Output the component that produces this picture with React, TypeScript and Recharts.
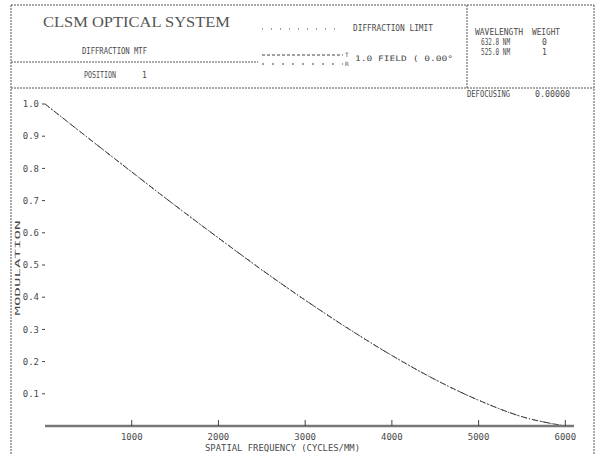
import React from 'react';
import { LineChart, Line, XAxis, YAxis } from 'recharts';

const frequencies = [0, 500, 1000, 1500, 2000, 2500, 3000, 3500, 4000, 4500, 5000, 5500, 6000];
const diffractionLimit = [1.0, 0.894, 0.789, 0.685, 0.584, 0.485, 0.391, 0.302, 0.219, 0.144, 0.08, 0.029, 0.0];
const tangential = [1.0, 0.894, 0.789, 0.685, 0.584, 0.485, 0.391, 0.302, 0.219, 0.144, 0.08, 0.029, 0.0];
const radial = [1.0, 0.894, 0.789, 0.685, 0.584, 0.485, 0.391, 0.302, 0.219, 0.144, 0.08, 0.029, 0.0];
const xTicks = [1000, 2000, 3000, 4000, 5000, 6000];
const yTicks = [0.1, 0.2, 0.3, 0.4, 0.5, 0.6, 0.7, 0.8, 0.9, 1.0];

const data = frequencies.map((f, i) => ({
  f,
  dl: diffractionLimit[i],
  t: tangential[i],
  r: radial[i],
}));

const mono = '"DejaVu Sans Mono", monospace';
const txt = '#4a4a4a';

export default function App() {
  return (
    <div style={{ position: 'absolute', left: 0, top: 0, width: 603, height: 455, background: '#fff' }}>
      <LineChart
        width={603}
        height={455}
        data={data}
        margin={{ top: 104, right: 29, bottom: 9, left: 15 }}
      >
        <XAxis
          dataKey="f"
          type="number"
          domain={[0, 6100]}
          ticks={xTicks}
          height={20}
          axisLine={{ stroke: '#777', strokeWidth: 2.5 }}
          tickLine={{ stroke: '#444' }}
          tickSize={-6}
          tickMargin={14}
          tick={{ fontSize: 9, fill: txt, fontFamily: mono }}
        />
        <YAxis
          type="number"
          domain={[0, 1]}
          ticks={yTicks}
          width={30}
          axisLine={false}
          tickLine={{ stroke: '#444' }}
          tickSize={3}
          tickMargin={3}
          tickFormatter={(v: number) => v.toFixed(1)}
          tick={{ fontSize: 9, fill: txt, fontFamily: mono }}
        />
        <Line dataKey="dl" type="monotone" stroke="#444" strokeWidth={1} strokeDasharray="1 3" dot={false} isAnimationActive={false} />
        <Line dataKey="t" type="monotone" stroke="#333" strokeWidth={1} strokeDasharray="6 2 1 2" dot={false} isAnimationActive={false} />
        <Line dataKey="r" type="monotone" stroke="#666" strokeWidth={1} strokeDasharray="2 6" dot={false} isAnimationActive={false} />
      </LineChart>
      <svg
        width={603}
        height={455}
        style={{ position: 'absolute', left: 0, top: 0, pointerEvents: 'none' }}
      >
        <g stroke="#555" strokeWidth={1} strokeDasharray="2 1" fill="none">
          <line x1={11} y1={5} x2={594} y2={5} />
          <line x1={11} y1={5} x2={11} y2={455} />
          <line x1={594} y1={5} x2={594} y2={455} />
          <line x1={467} y1={5} x2={467} y2={88} />
          <line x1={11} y1={88} x2={594} y2={88} />
          <line x1={11} y1={62} x2={258} y2={62} />
        </g>
        <text x={43} y={27} fontFamily='"Liberation Serif", serif' fontSize={15} fill="#555" textLength={187} lengthAdjust="spacingAndGlyphs">CLSM OPTICAL SYSTEM</text>
        <g fontFamily={mono} fontSize={8} fill={txt}>
          <text x={82} y={54} textLength={65} lengthAdjust="spacingAndGlyphs">DIFFRACTION MTF</text>
          <text x={84} y={78} textLength={32} lengthAdjust="spacingAndGlyphs">POSITION</text>
          <text x={142} y={78}>1</text>
          <text x={353} y={31} textLength={80} lengthAdjust="spacingAndGlyphs">DIFFRACTION LIMIT</text>
          <text x={345} y={57} fontSize={6}>T</text>
          <text x={345} y={66} fontSize={6}>R</text>
          <text x={355} y={61} fontSize={7.5} textLength={98} lengthAdjust="spacingAndGlyphs">1.0  FIELD (  0.00°</text>
          <text x={475} y={35} textLength={48} lengthAdjust="spacingAndGlyphs">WAVELENGTH</text>
          <text x={532} y={35} textLength={28} lengthAdjust="spacingAndGlyphs">WEIGHT</text>
          <text x={481} y={45} textLength={29} lengthAdjust="spacingAndGlyphs">632.8 NM</text>
          <text x={542} y={45}>0</text>
          <text x={481} y={55} textLength={29} lengthAdjust="spacingAndGlyphs">525.0 NM</text>
          <text x={542} y={55}>1</text>
          <text x={467} y={97} textLength={43} lengthAdjust="spacingAndGlyphs">DEFOCUSING</text>
          <text x={535} y={97} textLength={35} lengthAdjust="spacingAndGlyphs">0.00000</text>
          <text x={205} y={451} textLength={155} lengthAdjust="spacingAndGlyphs">SPATIAL FREQUENCY (CYCLES/MM)</text>
          <text x={0} y={0} transform="translate(20 268) rotate(-90)" textAnchor="middle" fontSize={7} textLength={95} lengthAdjust="spacingAndGlyphs">MODULATION</text>
        </g>
        <g stroke="#444" strokeWidth={1} fill="none">
          <line x1={262} y1={29} x2={342} y2={29} strokeDasharray="1 8" />
          <line x1={262} y1={55} x2={343} y2={55} strokeDasharray="3 2" />
          <line x1={262} y1={64} x2={343} y2={64} strokeDasharray="2 8" />
        </g>
      </svg>
    </div>
  );
}
